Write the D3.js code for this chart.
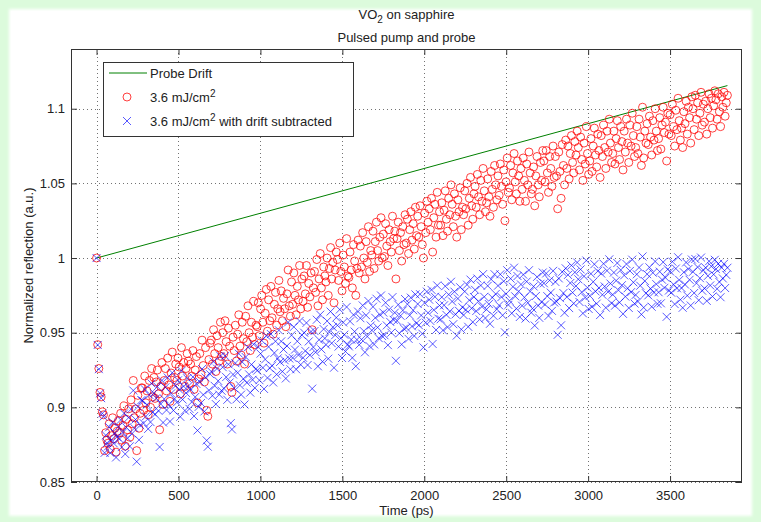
<!DOCTYPE html>
<html>
<head>
<meta charset="utf-8">
<script src="https://cdn.jsdelivr.net/npm/d3@7"></script>
<style>
  html, body { margin: 0; padding: 0; background: #dcfbdc; }
  svg { display: block; font-family: "Liberation Sans", Arial, Helvetica, sans-serif; }
</style>
</head>
<body>
<svg id="chart" width="761" height="522"></svg>
<script>
// Measured reflection (normalised to the pre-pump value), one sample every 7 ps from 0 to 3850 ps
const timeStepPs = 7;
const reflection = [
  1.000, 0.942, 0.926, 0.910, 0.907, 0.897, 0.895, 0.871, 0.883, 0.878,
  0.876, 0.889, 0.872, 0.881, 0.893, 0.879, 0.886, 0.870, 0.884, 0.891,
  0.883, 0.896, 0.878, 0.888, 0.901, 0.874, 0.892, 0.885, 0.899, 0.880,
  0.905, 0.889, 0.918, 0.893, 0.899, 0.871, 0.908, 0.886, 0.896, 0.913,
  0.913, 0.898, 0.921, 0.903, 0.911, 0.895, 0.918, 0.900, 0.926, 0.907,
  0.920, 0.906, 0.917, 0.925, 0.909, 0.885, 0.914, 0.930, 0.902, 0.918,
  0.926, 0.911, 0.933, 0.915, 0.904, 0.923, 0.937, 0.912, 0.920, 0.929,
  0.918, 0.933, 0.927, 0.909, 0.940, 0.921, 0.930, 0.914, 0.926, 0.936,
  0.931, 0.916, 0.929, 0.921, 0.938, 0.912, 0.925, 0.934, 0.903, 0.919,
  0.936, 0.922, 0.945, 0.928, 0.917, 0.940, 0.898, 0.894, 0.932, 0.943,
  0.945, 0.929, 0.952, 0.936, 0.924, 0.948, 0.940, 0.931, 0.957, 0.934,
  0.950, 0.936, 0.958, 0.944, 0.929, 0.953, 0.941, 0.914, 0.910, 0.947,
  0.938, 0.955, 0.931, 0.949, 0.962, 0.941, 0.935, 0.957, 0.946, 0.929,
  0.961, 0.944, 0.968, 0.950, 0.938, 0.957, 0.947, 0.971, 0.942, 0.955,
  0.954, 0.970, 0.948, 0.966, 0.975, 0.957, 0.943, 0.963, 0.979, 0.951,
  0.972, 0.958, 0.981, 0.960, 0.949, 0.969, 0.977, 0.955, 0.966, 0.985,
  0.964, 0.978, 0.958, 0.973, 0.966, 0.954, 0.976, 0.992, 0.968, 0.961,
  0.984, 0.969, 0.990, 0.975, 0.962, 0.981, 0.972, 0.995, 0.966, 0.986,
  0.971, 0.988, 0.976, 0.995, 0.967, 0.983, 0.974, 0.990, 0.952, 0.980,
  0.991, 0.977, 0.999, 0.968, 0.986, 1.003, 0.980, 0.972, 0.994, 0.988,
  0.984, 1.000, 0.975, 0.993, 1.007, 0.986, 0.997, 0.970, 0.992, 1.004,
  0.999, 0.985, 1.010, 0.991, 0.978, 1.002, 0.994, 0.983, 1.013, 0.988,
  0.987, 1.004, 0.992, 0.980, 1.009, 0.998, 0.975, 0.993, 1.012, 0.990,
  1.008, 0.994, 1.017, 1.000, 0.986, 1.011, 0.997, 1.021, 0.991, 1.005,
  1.002, 1.018, 0.993, 1.011, 1.024, 1.005, 0.998, 1.014, 1.027, 1.000,
  1.016, 1.001, 1.023, 1.008, 0.995, 1.019, 1.011, 1.004, 1.028, 1.013,
  1.018, 0.986, 1.013, 1.024, 1.005, 1.017, 0.998, 1.021, 1.009, 1.029,
  1.010, 1.026, 1.003, 1.019, 1.031, 1.012, 1.023, 1.006, 1.034, 1.015,
  1.028, 1.014, 1.035, 1.021, 1.009, 1.000, 1.030, 1.017, 1.038, 1.024,
  1.033, 1.019, 1.040, 1.004, 1.027, 1.036, 1.014, 1.044, 1.022, 1.031,
  1.022, 1.037, 1.015, 1.032, 1.045, 1.026, 1.018, 1.040, 1.029, 1.049,
  1.036, 1.021, 1.043, 1.028, 1.014, 1.039, 1.031, 1.047, 1.019, 1.034,
  1.029, 1.045, 1.033, 1.050, 1.022, 1.040, 1.054, 1.035, 1.026, 1.043,
  1.048, 1.034, 1.056, 1.041, 1.029, 1.052, 1.038, 1.060, 1.045, 1.031,
  1.037, 1.053, 1.041, 1.028, 1.058, 1.046, 1.034, 1.062, 1.049, 1.039,
  1.055, 1.042, 1.063, 1.048, 1.036, 1.059, 1.025, 1.051, 1.067, 1.044,
  1.047, 1.062, 1.039, 1.057, 1.070, 1.051, 1.043, 1.065, 1.055, 1.038,
  1.060, 1.046, 1.067, 1.052, 1.038, 1.063, 1.049, 1.071, 1.057, 1.043,
  1.046, 1.061, 1.035, 1.055, 1.068, 1.049, 1.041, 1.064, 1.052, 1.072,
  1.065, 1.051, 1.072, 1.057, 1.044, 1.068, 1.060, 1.048, 1.075, 1.054,
  1.068, 1.055, 1.033, 1.071, 1.058, 1.040, 1.076, 1.062, 1.049, 1.079,
  1.060, 1.075, 1.053, 1.070, 1.082, 1.064, 1.057, 1.078, 1.069, 1.085,
  1.074, 1.059, 1.081, 1.066, 1.052, 1.077, 1.063, 1.088, 1.070, 1.056,
  1.065, 1.080, 1.058, 1.075, 1.087, 1.069, 1.061, 1.083, 1.072, 1.054,
  1.082, 1.068, 1.089, 1.074, 1.060, 1.085, 1.071, 1.093, 1.077, 1.064,
  1.070, 1.085, 1.063, 1.080, 1.092, 1.074, 1.066, 1.088, 1.078, 1.059,
  1.085, 1.071, 1.093, 1.077, 1.064, 1.089, 1.075, 1.097, 1.082, 1.068,
  1.074, 1.088, 1.070, 1.093, 1.081, 1.062, 1.101, 1.067, 1.085, 1.077,
  1.090, 1.076, 1.095, 1.081, 1.069, 1.092, 1.079, 1.100, 1.085, 1.072,
  1.080, 1.094, 1.073, 1.089, 1.101, 1.084, 1.091, 1.065, 1.097, 1.083,
  1.096, 1.082, 1.103, 1.088, 1.075, 1.099, 1.086, 1.107, 1.092, 1.079,
  1.087, 1.074, 1.098, 1.090, 1.105, 1.083, 1.101, 1.094, 1.077, 1.108,
  1.100, 1.086, 1.109, 1.093, 1.104, 1.082, 1.097, 1.111, 1.089, 1.103,
  1.091, 1.105, 1.083, 1.100, 1.110, 1.094, 1.107, 1.087, 1.102, 1.112,
  1.106, 1.093, 1.110, 1.098, 1.088, 1.108, 1.101, 1.111, 1.095, 1.104,
  1.109
];
const times = reflection.map((_, i) => i * timeStepPs);

// Probe drift: linear, measured without pump
const driftTimes = [0, 3850];
const driftValues = [1.0, 1.1155];

const xTicks = [0, 500, 1000, 1500, 2000, 2500, 3000, 3500];
const xTickLabels = ["0", "500", "1000", "1500", "2000", "2500", "3000", "3500"];
const yTicks = [0.85, 0.9, 0.95, 1, 1.05, 1.1];
const yTickLabels = ["0.85", "0.9", "0.95", "1", "1.05", "1.1"];

const seriesNames = ["Probe Drift", "3.6 mJ/cm", "3.6 mJ/cm"];
const seriesSuffix = ["", "2", "2 with drift subtracted"];

// ---- layout ----
const plot = { left: 71, right: 742, top: 49, bottom: 482 };
const svg = d3.select("#chart");

const defs = svg.append("defs");
defs.append("filter").attr("id", "soft")
  .attr("x", "-5%").attr("y", "-5%").attr("width", "110%").attr("height", "110%")
  .append("feGaussianBlur").attr("stdDeviation", 1.5);

svg.append("rect").attr("width", 761).attr("height", 522).attr("fill", "#dcfbdc");
svg.append("rect").attr("x", 9).attr("y", 9).attr("width", 743).attr("height", 507)
  .attr("fill", "#ffffff").attr("filter", "url(#soft)");
svg.append("rect").attr("x", 11).attr("y", 11).attr("width", 739).attr("height", 503)
  .attr("fill", "#ffffff");

const x = d3.scaleLinear().domain([-156, 3939]).range([plot.left, plot.right]);
const y = d3.scaleLinear().domain([0.85, 1.14]).range([plot.bottom, plot.top]);
const drift = d3.scaleLinear().domain(driftTimes).range(driftValues);

// drift-corrected reflection = measured − (drift − 1)
const corrected = reflection.map((r, i) => r - (drift(times[i]) - 1));

const fontSize = 13;

// plot background
svg.append("rect").attr("x", plot.left).attr("y", plot.top)
  .attr("width", plot.right - plot.left).attr("height", plot.bottom - plot.top)
  .attr("fill", "#fff");

// dotted grid
const grid = svg.append("g").attr("stroke", "#444").attr("stroke-width", 1)
  .attr("stroke-dasharray", "1,3").attr("opacity", 0.75);
grid.selectAll("line.gx").data(xTicks).join("line")
  .attr("x1", d => Math.round(x(d)) + 0.5).attr("x2", d => Math.round(x(d)) + 0.5)
  .attr("y1", plot.top).attr("y2", plot.bottom);
grid.selectAll("line.gy").data(yTicks).join("line")
  .attr("y1", d => Math.round(y(d)) + 0.5).attr("y2", d => Math.round(y(d)) + 0.5)
  .attr("x1", plot.left).attr("x2", plot.right);

// data
const clip = defs.append("clipPath").attr("id", "plotclip");
clip.append("rect").attr("x", plot.left).attr("y", plot.top)
  .attr("width", plot.right - plot.left).attr("height", plot.bottom - plot.top);
const dataG = svg.append("g").attr("clip-path", "url(#plotclip)");

dataG.append("path")
  .datum(driftTimes.map((t, i) => [t, driftValues[i]]))
  .attr("d", d3.line().x(d => x(d[0])).y(d => y(d[1])))
  .attr("fill", "none").attr("stroke", "#008000").attr("stroke-width", 1);

dataG.append("g").selectAll("circle").data(reflection).join("circle")
  .attr("cx", (d, i) => x(times[i])).attr("cy", d => y(d)).attr("r", 4)
  .attr("fill", "none").attr("stroke", "#ff0000").attr("stroke-width", 1)
  .attr("stroke-opacity", 0.75);

const xr = 4;
dataG.append("g").selectAll("path").data(corrected).join("path")
  .attr("d", (d, i) => {
    const cx = x(times[i]), cy = y(d);
    return `M${cx - xr},${cy - xr}L${cx + xr},${cy + xr}M${cx - xr},${cy + xr}L${cx + xr},${cy - xr}`;
  })
  .attr("fill", "none").attr("stroke", "#0000ff").attr("stroke-width", 1)
  .attr("stroke-opacity", 0.65);

// axes with inward ticks on all four sides
const tickLen = 6;
const axisColor = "#333";
function styleAxis(g) {
  g.select(".domain").remove();
  g.selectAll(".tick line").attr("stroke", axisColor);
  g.selectAll(".tick text").attr("fill", "#222").attr("font-size", fontSize)
    .attr("font-family", "Liberation Sans, Arial, sans-serif");
}
svg.append("g").attr("transform", `translate(0,${plot.bottom})`)
  .call(d3.axisBottom(x).tickValues(xTicks).tickSize(-tickLen).tickPadding(9)
    .tickFormat((d, i) => xTickLabels[i]))
  .call(styleAxis);
svg.append("g").attr("transform", `translate(0,${plot.top})`)
  .call(d3.axisTop(x).tickValues(xTicks).tickSize(-tickLen).tickFormat(""))
  .call(styleAxis);
svg.append("g").attr("transform", `translate(${plot.left},0)`)
  .call(d3.axisLeft(y).tickValues(yTicks).tickSize(-tickLen).tickPadding(6)
    .tickFormat((d, i) => yTickLabels[i]))
  .call(styleAxis);
svg.append("g").attr("transform", `translate(${plot.right},0)`)
  .call(d3.axisRight(y).tickValues(yTicks).tickSize(-tickLen).tickFormat(""))
  .call(styleAxis);

// frame
svg.append("rect").attr("x", plot.left + 0.5).attr("y", plot.top + 0.5)
  .attr("width", plot.right - plot.left - 1).attr("height", plot.bottom - plot.top - 1)
  .attr("fill", "none").attr("stroke", axisColor).attr("stroke-width", 1);

// titles
const cxPlot = (plot.left + plot.right) / 2;
const t1 = svg.append("text").attr("x", cxPlot).attr("y", 19).attr("text-anchor", "middle")
  .attr("font-size", fontSize).attr("fill", "#222");
t1.append("tspan").text("VO");
t1.append("tspan").attr("dy", 4).attr("font-size", 10).text("2");
t1.append("tspan").attr("dy", -4).text(" on sapphire");
svg.append("text").attr("x", cxPlot).attr("y", 42).attr("text-anchor", "middle")
  .attr("font-size", fontSize).attr("fill", "#222").text("Pulsed pump and probe");

svg.append("text").attr("x", cxPlot).attr("y", 515).attr("text-anchor", "middle")
  .attr("font-size", fontSize).attr("fill", "#222").text("Time (ps)");
svg.append("text").attr("transform", `translate(33,${(plot.top + plot.bottom) / 2}) rotate(-90)`)
  .attr("text-anchor", "middle").attr("font-size", fontSize).attr("fill", "#222")
  .text("Normalized reflection (a.u.)");

// legend
const lg = svg.append("g");
lg.append("rect").attr("x", 103.5).attr("y", 62.5).attr("width", 250).attr("height", 74)
  .attr("fill", "#fff").attr("stroke", axisColor).attr("stroke-width", 1);
const rowY = [73, 97, 121];
lg.append("line").attr("x1", 109).attr("x2", 147).attr("y1", rowY[0]).attr("y2", rowY[0])
  .attr("stroke", "#008000");
lg.append("circle").attr("cx", 127).attr("cy", rowY[1]).attr("r", 4)
  .attr("fill", "none").attr("stroke", "#ff0000").attr("stroke-opacity", 0.75);
lg.append("path")
  .attr("d", `M${127 - xr},${rowY[2] - xr}L${127 + xr},${rowY[2] + xr}M${127 - xr},${rowY[2] + xr}L${127 + xr},${rowY[2] - xr}`)
  .attr("stroke", "#0000ff").attr("stroke-opacity", 0.65);
seriesNames.forEach((name, i) => {
  const t = lg.append("text").attr("x", 150).attr("y", rowY[i] + 5)
    .attr("font-size", fontSize).attr("fill", "#222");
  t.append("tspan").text(name);
  if (seriesSuffix[i]) {
    const [sup, ...rest] = seriesSuffix[i].split(" ");
    t.append("tspan").attr("dy", -5).attr("font-size", 10).text(sup);
    if (rest.length) t.append("tspan").attr("dy", 5).text(" " + rest.join(" "));
  }
});
</script>
</body>
</html>
